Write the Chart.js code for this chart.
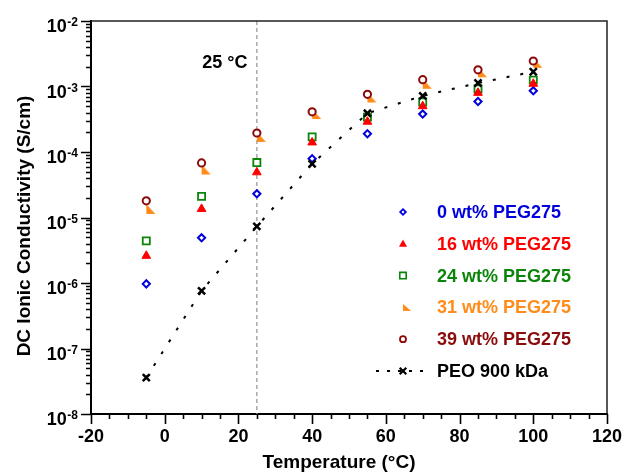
<!DOCTYPE html>
<html>
<head>
<meta charset="utf-8">
<script src="https://cdn.jsdelivr.net/npm/chart.js@4.4.1/dist/chart.umd.min.js"></script>
<style>
  html, body { margin: 0; padding: 0; background: #fff; }
  #wrap { width: 625px; height: 473px; }
</style>
</head>
<body>
<div id="wrap"><canvas id="chart" width="625" height="473"></canvas></div>
<script>
// temperatures (°C)
const temps = [-5, 10, 25, 40, 55, 70, 85, 100];

// DC ionic conductivity (S/cm)
const peg0  = [9.7e-7, 4.9e-6, 2.3e-5, 7.9e-5, 1.9e-4, 3.8e-4, 5.9e-4, 8.6e-4];
const peg16 = [2.6e-6, 1.35e-5, 4.9e-5, 1.4e-4, 2.9e-4, 5.0e-4, 8.0e-4, 1.1e-3];
const peg24 = [4.4e-6, 2.1e-5, 6.9e-5, 1.7e-4, 3.4e-4, 5.8e-4, 9.2e-4, 1.25e-3];
const peg31 = [1.35e-5, 5.4e-5, 1.7e-4, 3.8e-4, 6.8e-4, 1.1e-3, 1.65e-3, 2.3e-3];
const peg39 = [1.8e-5, 6.8e-5, 1.95e-4, 4.1e-4, 7.6e-4, 1.27e-3, 1.8e-3, 2.45e-3];
const peo   = [3.6e-8, 7.6e-7, 7.3e-6, 6.6e-5, 3.9e-4, 7.2e-4, 1.13e-3, 1.68e-3];

const seriesNames = ['0 wt% PEG275', '16 wt% PEG275', '24 wt% PEG275',
                     '31 wt% PEG275', '39 wt% PEG275', 'PEO 900 kDa'];

const xTicks = [-20, 0, 20, 40, 60, 80, 100, 120];
const yDecades = [-8, -7, -6, -5, -4, -3, -2];
const roomTemp = 25;

const FONT = '"Liberation Sans", Arial, sans-serif';
const colors = ['#0000dd', '#ff0000', '#0a850a', '#ff8c1a', '#8b0a0a', '#000000'];

// right-half triangle marker (not built into Chart.js)
function halfTriangle(w, h, color) {
  const c = document.createElement('canvas');
  c.width = 2 * w + 2; c.height = h + 2;
  const g = c.getContext('2d');
  const cx = w + 1, top = 1, bot = h + 1;
  g.fillStyle = color;
  g.beginPath();
  g.moveTo(cx, top);
  g.lineTo(cx, bot);
  g.lineTo(cx + w, bot);
  g.closePath();
  g.fill();
  return c;
}
const halfTri = halfTriangle(9, 10, colors[3]);
const halfTriSmall = halfTriangle(8, 7, colors[3]);

function pts(arr) {
  return temps.map((t, i) => ({ x: t, y: arr[i] }));
}

const datasets = [
  { label: seriesNames[0], data: pts(peg0), pointStyle: 'rectRot', pointRadius: 3.6,
    borderColor: colors[0], backgroundColor: '#fff', pointBorderWidth: 2, order: 3 },
  { label: seriesNames[1], data: pts(peg16), pointStyle: 'triangle', pointRadius: 5,
    borderColor: colors[1], backgroundColor: colors[1], pointBorderWidth: 1, order: 2 },
  { label: seriesNames[2], data: pts(peg24), pointStyle: 'rect', pointRadius: 5,
    borderColor: colors[2], backgroundColor: '#fff', pointBorderWidth: 1.8, order: 4 },
  { label: seriesNames[3], data: pts(peg31), pointStyle: halfTri, pointRadius: 5,
    borderColor: colors[3], backgroundColor: colors[3], order: 5 },
  { label: seriesNames[4], data: pts(peg39), pointStyle: 'circle', pointRadius: 3.6,
    borderColor: colors[4], backgroundColor: '#fff', pointBorderWidth: 2, order: 1 },
  { label: seriesNames[5], data: pts(peo), pointStyle: 'crossRot', pointRadius: 5,
    borderColor: colors[5], backgroundColor: colors[5], pointBorderWidth: 2.5,
    showLine: true, borderWidth: 2, borderDash: [3, 11], order: 0 }
];

function drawLegendMarker(ctx, i, x, y) {
  ctx.save();
  ctx.strokeStyle = colors[i];
  ctx.fillStyle = colors[i];
  ctx.beginPath();
  if (i === 0) {
    ctx.lineWidth = 1.8;
    ctx.moveTo(x, y - 2.8); ctx.lineTo(x + 2.8, y); ctx.lineTo(x, y + 2.8); ctx.lineTo(x - 2.8, y);
    ctx.closePath(); ctx.stroke();
  } else if (i === 1) {
    ctx.moveTo(x, y - 4.3); ctx.lineTo(x + 4, y + 3); ctx.lineTo(x - 4, y + 3);
    ctx.closePath(); ctx.fill();
  } else if (i === 2) {
    ctx.lineWidth = 1.6;
    ctx.rect(x - 3.2, y - 3.2, 6.4, 6.4); ctx.stroke();
  } else if (i === 3) {
    ctx.drawImage(halfTriSmall, x - halfTriSmall.width / 2, y - halfTriSmall.height / 2);
  } else if (i === 4) {
    ctx.lineWidth = 1.8;
    ctx.arc(x, y, 3, 0, Math.PI * 2); ctx.stroke();
  } else {
    ctx.lineWidth = 2.2;
    ctx.moveTo(x - 3.3, y - 3.3); ctx.lineTo(x + 3.3, y + 3.3);
    ctx.moveTo(x + 3.3, y - 3.3); ctx.lineTo(x - 3.3, y + 3.3);
    ctx.stroke();
  }
  ctx.restore();
}

const decor = {
  id: 'decor',
  beforeDatasetsDraw(chart) {
    const { ctx, chartArea: a, scales: { x } } = chart;
    const px = x.getPixelForValue(roomTemp);
    ctx.save();
    ctx.strokeStyle = '#9a9a9a';
    ctx.lineWidth = 1.3;
    ctx.setLineDash([4, 3]);
    ctx.beginPath();
    ctx.moveTo(px, a.top); ctx.lineTo(px, a.bottom);
    ctx.stroke();
    ctx.restore();
  },
  afterDraw(chart) {
    const { ctx, chartArea: a, scales: { x, y } } = chart;
    ctx.save();

    // frame on top and right
    ctx.strokeStyle = '#222';
    ctx.lineWidth = 1.5;
    ctx.beginPath();
    ctx.moveTo(a.left, a.top); ctx.lineTo(a.right, a.top); ctx.lineTo(a.right, a.bottom);
    ctx.stroke();

    // x ticks (outside), majors every 20, minors every 5
    ctx.strokeStyle = '#000';
    ctx.lineWidth = 1.6;
    ctx.beginPath();
    for (let v = xTicks[0]; v <= xTicks[xTicks.length - 1]; v += 5) {
      const px = Math.round(x.getPixelForValue(v)) + 0.5;
      const len = (v % 20 === 0) ? 10 : 5;
      ctx.moveTo(px, a.bottom); ctx.lineTo(px, a.bottom + len);
    }
    // y ticks (outside), decades + 2..9 minors
    yDecades.forEach((n, k) => {
      const py = Math.round(y.getPixelForValue(Math.pow(10, n))) + 0.5;
      ctx.moveTo(a.left, py); ctx.lineTo(a.left - 10, py);
      if (k < yDecades.length - 1) {
        for (let m = 2; m <= 9; m++) {
          const q = Math.round(y.getPixelForValue(m * Math.pow(10, n))) + 0.5;
          ctx.moveTo(a.left, q); ctx.lineTo(a.left - 5, q);
        }
      }
    });
    ctx.stroke();

    // x tick labels
    ctx.fillStyle = '#000';
    ctx.font = 'bold 18px ' + FONT;
    ctx.textAlign = 'center';
    ctx.textBaseline = 'middle';
    xTicks.forEach(v => {
      ctx.fillText(String(v), x.getPixelForValue(v), a.bottom + 23);
    });

    // y tick labels: 10 with superscript exponent
    yDecades.forEach(n => {
      const py = y.getPixelForValue(Math.pow(10, n));
      const expRight = a.left - 13;
      ctx.font = 'bold 12px ' + FONT;
      ctx.textAlign = 'right';
      ctx.textBaseline = 'alphabetic';
      const exp = '-' + Math.abs(n);
      ctx.fillText(exp, expRight, py + 5);
      const ew = ctx.measureText(exp).width;
      ctx.font = 'bold 18px ' + FONT;
      ctx.fillText('10', expRight - ew - 0.5, py + 11);
    });

    // axis titles
    ctx.font = 'bold 19px ' + FONT;
    ctx.textAlign = 'center';
    ctx.textBaseline = 'middle';
    ctx.fillText('Temperature (°C)', 339, 463);
    ctx.save();
    ctx.translate(25, 226);
    ctx.rotate(-Math.PI / 2);
    ctx.fillText('DC Ionic Conductivity (S/cm)', 0, 0);
    ctx.restore();

    // 25 °C label
    ctx.font = 'bold 18px ' + FONT;
    ctx.fillText(roomTemp + ' °C', x.getPixelForValue(roomTemp) - 32, 63);

    // legend inside the plot
    const mx = a.left + 312, tx = a.left + 346;
    ctx.textAlign = 'left';
    ctx.font = 'bold 18px ' + FONT;
    seriesNames.forEach((name, i) => {
      const ry = a.top + 191 + i * 31.8;
      if (i === 5) {
        ctx.save();
        ctx.strokeStyle = '#000';
        ctx.lineWidth = 2;
        ctx.setLineDash([3, 8]);
        ctx.beginPath();
        ctx.moveTo(mx - 27, ry); ctx.lineTo(mx + 26, ry);
        ctx.stroke();
        ctx.restore();
      }
      drawLegendMarker(ctx, i, mx, ry);
      ctx.fillStyle = colors[i];
      ctx.fillText(name, tx, ry + 1);
    });

    ctx.restore();
  }
};

new Chart(document.getElementById('chart'), {
  type: 'scatter',
  data: { datasets: datasets },
  options: {
    responsive: false,
    animation: false,
    layout: { padding: { left: 0, right: 18, top: 21, bottom: 0 } },
    plugins: { legend: { display: false }, tooltip: { enabled: false } },
    scales: {
      x: {
        type: 'linear', min: -20, max: 120,
        grid: { display: false },
        border: { display: true, color: '#000', width: 2 },
        ticks: { display: false },
        afterFit: (s) => { s.height = 59; }
      },
      y: {
        type: 'logarithmic', min: 1e-8, max: 1e-2,
        grid: { display: false },
        border: { display: true, color: '#000', width: 2 },
        ticks: { display: false },
        afterFit: (s) => { s.width = 91; }
      }
    }
  },
  plugins: [decor]
});
</script>
</body>
</html>
